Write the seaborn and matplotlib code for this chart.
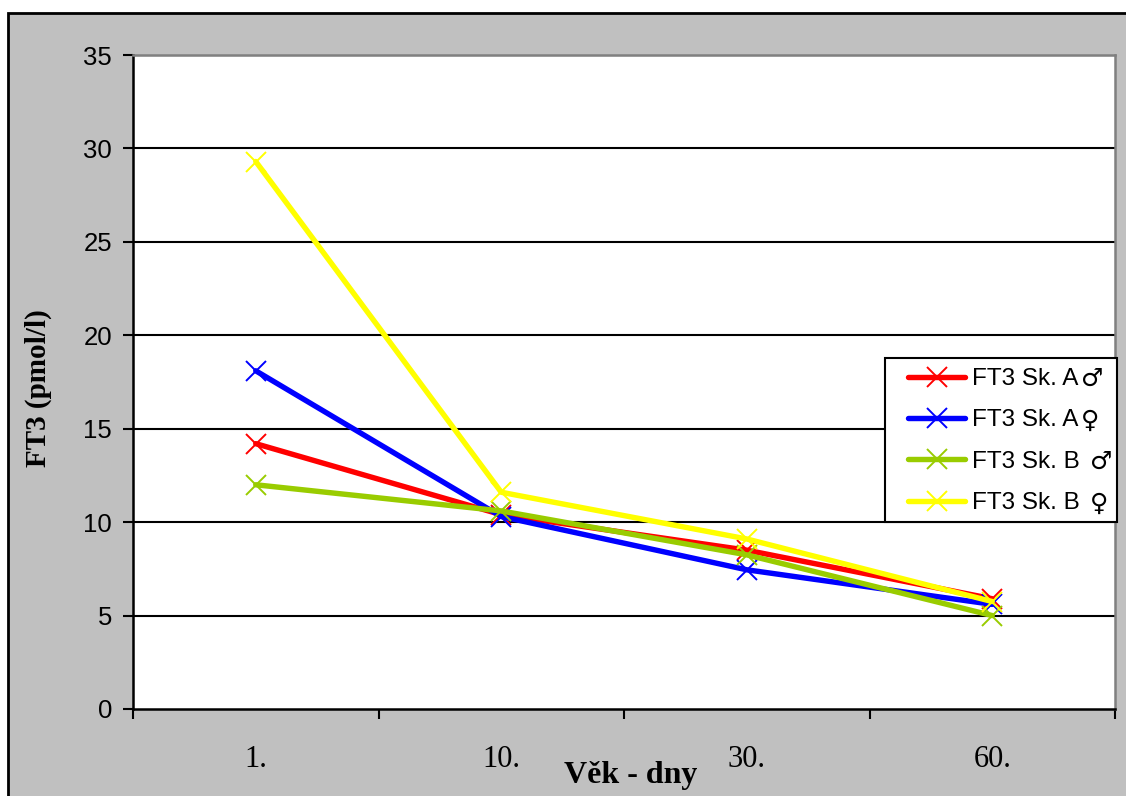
import matplotlib
matplotlib.use("Agg")
import matplotlib.pyplot as plt
import seaborn as sns
import pandas as pd
from matplotlib.patches import Rectangle

days = ["1.", "10.", "30.", "60."]
series_base = ["FT3 Sk. A", "FT3 Sk. A", "FT3 Sk. B", "FT3 Sk. B"]
series_sign = ["\u2642", "\u2640", "\u2642", "\u2640"]
series_names = ["FT3 Sk. A\u2642", "FT3 Sk. A\u2640", "FT3 Sk. B \u2642", "FT3 Sk. B \u2640"]
a_male = [14.2, 10.4, 8.5, 5.9]
a_female = [18.1, 10.3, 7.45, 5.6]
b_male = [12.0, 10.6, 8.25, 5.0]
b_female = [29.3, 11.6, 9.1, 5.75]
colors = ["#ff0000", "#0000ff", "#99cc00", "#ffff00"]
y_ticks = [0, 5, 10, 15, 20, 25, 30, 35]

rows = []
for name, vals in zip(series_names, [a_male, a_female, b_male, b_female]):
    for d, v in zip(days, vals):
        rows.append({"day": d, "value": v, "series": name})
df = pd.DataFrame(rows)

sns.set_theme(style="white")
plt.rcParams["font.family"] = ["Liberation Sans", "DejaVu Sans"]
plt.rcParams["text.color"] = "black"
plt.rcParams["axes.labelcolor"] = "black"
plt.rcParams["xtick.color"] = "black"
plt.rcParams["ytick.color"] = "black"

W, H = 1126, 796
fig = plt.figure(figsize=(W / 100, H / 100), dpi=100)
fig.patch.set_facecolor("white")

bg = fig.add_axes([0, 0, 1, 1], zorder=-5)
bg.set_axis_off()
bg.set_xlim(0, 1)
bg.set_ylim(0, 1)
bg.add_patch(Rectangle((8 / W, -0.01), 1.2, 1 - 13 / H + 0.01,
                       facecolor="#c0c0c0", edgecolor="black", linewidth=2))

ax = fig.add_axes([133 / W, 1 - 709 / H, (1115 - 133) / W, (709 - 55) / H], zorder=1)
ax.set_facecolor("white")

for name, col in zip(series_names, colors):
    sub = df[df["series"] == name]
    sns.lineplot(data=sub, x="day", y="value", ax=ax, color=col, linewidth=3.9,
                 marker="x", markersize=15, markeredgewidth=1.4,
                 markeredgecolor=col, label=name, sort=False)
if ax.get_legend() is not None:
    ax.get_legend().remove()

ax.set_xlim(-0.5, 3.5)
ax.set_ylim(0, 35)
ax.set_yticks(y_ticks)
ax.set_yticklabels([str(t) for t in y_ticks], fontsize=18.5)
ax.set_xticks(range(len(days)))
ax.set_xticklabels(days, fontsize=22, family="Liberation Serif")
ax.set_xticks([i - 0.5 for i in range(len(days) + 1)], minor=True)
ax.tick_params(axis="x", which="major", length=0, pad=26)
ax.tick_params(axis="x", which="minor", length=7, width=1.5, color="black", direction="out", bottom=True)
ax.tick_params(axis="y", which="major", length=7, width=1.5, color="black", direction="out", left=True, pad=8)

for t in y_ticks[1:]:
    ax.axhline(t, color="black", linewidth=1.5, zorder=0.5)

for s in ["top", "right"]:
    ax.spines[s].set_color("#808080")
    ax.spines[s].set_linewidth(1.8)
for s in ["left", "bottom"]:
    ax.spines[s].set_color("black")
    ax.spines[s].set_linewidth(1.8)

ax.set_xlabel("")
ax.set_ylabel("")
fig.text(38 / W, 1 - 388 / H, "FT3 (pmol/l)", fontsize=21, fontweight="bold",
         family="Liberation Serif", rotation=90, ha="center", va="center")
fig.text(631 / W, 1 - 776 / H, "V\u011bk - dny", fontsize=23, fontweight="bold",
         family="Liberation Serif", ha="center", va="center")

# legend frame
fig.add_artist(Rectangle((885 / W, 1 - 522 / H), (1117 - 885) / W, (522 - 358) / H,
                         transform=fig.transFigure, facecolor="white", edgecolor="black",
                         linewidth=1.5, zorder=4))

handles, labels = ax.get_legend_handles_labels()
leg = fig.legend(handles, series_base, loc="upper left",
                 bbox_to_anchor=(908 / W, 1 - 368 / H), bbox_transform=fig.transFigure,
                 frameon=False, borderaxespad=0, borderpad=0,
                 labelspacing=0.8, handlelength=2.35, handletextpad=0.29,
                 prop={"family": ["Liberation Sans", "DejaVu Sans"], "size": 17.5})
leg.set_zorder(5)

fig.canvas.draw()
renderer = fig.canvas.get_renderer()
inv = fig.transFigure.inverted()
for txt, name, sign in zip(leg.get_texts(), series_names, series_sign):
    bb = txt.get_window_extent(renderer)
    gap = 10 if " " + sign in name else 2
    x0, yc = inv.transform((bb.x1 + gap, (bb.y0 + bb.y1) / 2))
    fig.text(x0, yc, sign, fontsize=18, family="DejaVu Sans", ha="left", va="center",
             color="black", zorder=10)

fig.savefig("out.png", dpi=100, facecolor=fig.get_facecolor())
